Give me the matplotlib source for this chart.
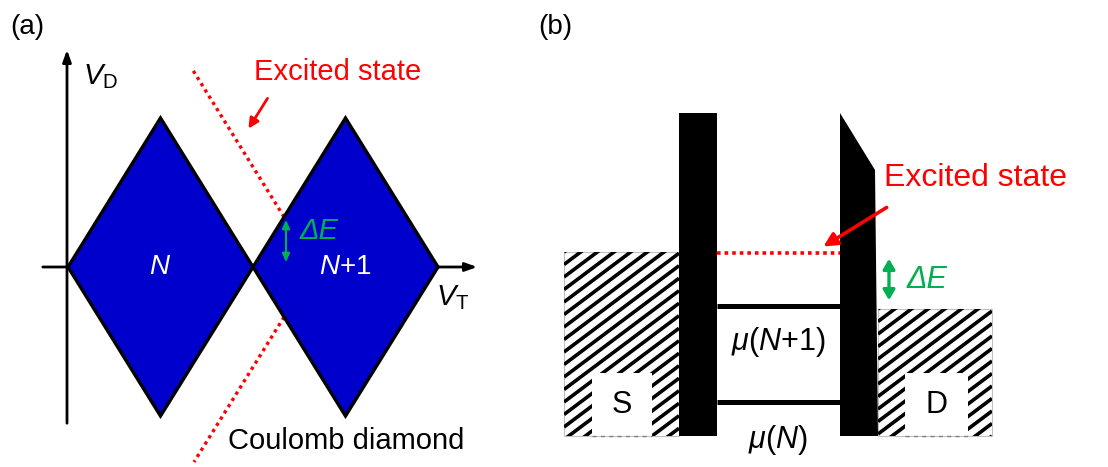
import numpy as np
import matplotlib.pyplot as plt
from matplotlib.patches import Polygon, Rectangle
from matplotlib.collections import LineCollection

plt.rcParams['font.family'] = ['Liberation Sans', 'DejaVu Sans']
plt.rcParams['mathtext.fontset'] = 'custom'
plt.rcParams['mathtext.rm'] = 'Liberation Sans'
plt.rcParams['mathtext.it'] = 'Liberation Sans:italic'

RED = '#ff0000'
GREEN = '#00b050'
BLUE = '#0000cc'

# (a) Coulomb diamonds (pixel coordinates)
diamond_centers = [160.5, 345.5]
diamond_labels = ['$N$', '$N$+1']
diamond_half_w = 92.5
diamond_half_h = 149
axis_y = 267
axis_x = 67
delta_e = 50

# (b) energy diagram
barrier_left = [(679, 113), (717, 113), (717, 436), (679, 436)]
barrier_right = [(840, 113), (875, 170), (878, 436), (840, 436)]
lead_names = ['S', 'D']
lead_x = [(564, 679), (878, 992)]
lead_top = [252, 309]
lead_box_x = [(592, 652), (905, 968)]
lead_bottom = 436
box_top = 373
level_names = [r'$\mu$($N$+1)', r'$\mu$($N$)']
level_y = [306, 402]
level_label_y = [342, 440]
excited_y = 253
dot_x = (717, 840)

fig = plt.figure(figsize=(11.08, 4.67), dpi=100)
ax = fig.add_axes([0, 0, 1, 1])
ax.set_xlim(0, 1108)
ax.set_ylim(467, 0)
ax.axis('off')

# ---------- panel (a) ----------
ax.text(10, 27, '(a)', fontsize=20, va='center', ha='left')

ax.annotate('', xy=(axis_x, 47), xytext=(axis_x, 426),
            arrowprops=dict(arrowstyle='-|>,head_length=0.7,head_width=0.25', lw=2, color='black'))
ax.annotate('', xy=(480, axis_y), xytext=(40, axis_y),
            arrowprops=dict(arrowstyle='-|>,head_length=0.7,head_width=0.25', lw=2, color='black'))

for cx, lab in zip(diamond_centers, diamond_labels):
    pts = [(cx - diamond_half_w, axis_y), (cx, axis_y - diamond_half_h),
           (cx + diamond_half_w, axis_y), (cx, axis_y + diamond_half_h)]
    ax.add_patch(Polygon(pts, closed=True, facecolor=BLUE, edgecolor='black',
                         lw=2.4, joinstyle='miter', zorder=3))
    ax.text(cx, axis_y, lab, color='white', fontsize=20, ha='center', va='center', zorder=5)

ax.text(83, 77, r'$V_\mathrm{D}$', fontsize=21, ha='left', va='center')
ax.text(436, 298, r'$V_\mathrm{T}$', fontsize=21, ha='left', va='center')

# excited state lines, parallel to diamond edges, starting delta_e from the axis
x_start = diamond_centers[1] - diamond_half_w + delta_e * diamond_half_w / diamond_half_h
slope = diamond_half_w / diamond_half_h
for y0, y1 in [(axis_y - delta_e, 70), (axis_y + delta_e, 462)]:
    x1 = x_start - abs(y1 - y0) * slope
    ax.plot([x_start, x1], [y0, y1], color=RED, lw=2.4, ls=(0, (1, 1.2)),
            dash_capstyle='butt', zorder=2)

ax.annotate('', xy=(286, axis_y - delta_e), xytext=(286, axis_y - 2),
            arrowprops=dict(arrowstyle='<|-|>,head_length=0.5,head_width=0.22', lw=1.5, color=GREEN),
            zorder=6)
ax.text(300, 231, 'ΔE', color=GREEN, fontsize=21, style='italic', ha='left', va='center', zorder=6)

ax.text(338, 72, 'Excited state', color=RED, fontsize=21, ha='center', va='center')
ax.annotate('', xy=(247, 131), xytext=(269, 96),
            arrowprops=dict(arrowstyle='-|>,head_length=0.6,head_width=0.3', lw=2, color=RED))
ax.text(228, 441, 'Coulomb diamond', fontsize=21, ha='left', va='center')

# ---------- panel (b) ----------
ax.text(538, 27, '(b)', fontsize=20, va='center', ha='left')

for name, (x0, x1), top, (bx0, bx1) in zip(lead_names, lead_x, lead_top, lead_box_x):
    clip = Polygon([(x0, top), (x1, top), (x1, lead_bottom), (x0, lead_bottom)], closed=True,
                   facecolor='white', edgecolor='#c0c0c0', lw=0.8, zorder=1)
    ax.add_patch(clip)
    spacing = 12.5
    segs = []
    for c in np.arange(top - 0.75 * (x1 - x0) - spacing, lead_bottom + spacing, spacing):
        segs.append([(x0, c + 0.75 * (x1 - x0)), (x1, c)])
    lc = LineCollection(segs, colors='black', linewidths=2.6, zorder=1.5)
    ax.add_collection(lc)
    lc.set_clip_path(clip)
    ax.add_patch(Rectangle((bx0, box_top), bx1 - bx0, lead_bottom - box_top,
                           facecolor='white', edgecolor='none', zorder=2))
    ax.plot([bx0, bx1], [lead_bottom, lead_bottom], color='#808080', lw=1,
            ls=(0, (3, 3)), zorder=2.5)
    ax.text((bx0 + bx1) / 2, 405, name, fontsize=22, ha='center', va='center', zorder=3)

ax.add_patch(Polygon(barrier_left, closed=True, facecolor='black', edgecolor='none', zorder=4))
ax.add_patch(Polygon(barrier_right, closed=True, facecolor='black', edgecolor='none', zorder=4))

for name, y, ly in zip(level_names, level_y, level_label_y):
    ax.plot(dot_x, [y, y], color='black', lw=3.6, solid_capstyle='butt', zorder=3)
    ax.text(778, ly, name, fontsize=22, ha='center', va='center')

ax.plot(dot_x, [excited_y, excited_y], color=RED, lw=2.6, ls=(0, (1, 1.1)),
        dash_capstyle='butt', zorder=3)

ax.text(975, 178, 'Excited state', color=RED, fontsize=23, ha='center', va='center')
ax.annotate('', xy=(821, 248), xytext=(889, 206),
            arrowprops=dict(arrowstyle='-|>,head_length=0.8,head_width=0.4', lw=2.6, color=RED),
            zorder=6)

ax.annotate('', xy=(889, 256), xytext=(889, 303),
            arrowprops=dict(arrowstyle='<|-|>,head_length=0.6,head_width=0.35', lw=2.4, color=GREEN),
            zorder=6)
ax.text(907, 280, 'ΔE', color=GREEN, fontsize=22, style='italic', ha='left', va='center')

fig.savefig('out.png', dpi=100)
